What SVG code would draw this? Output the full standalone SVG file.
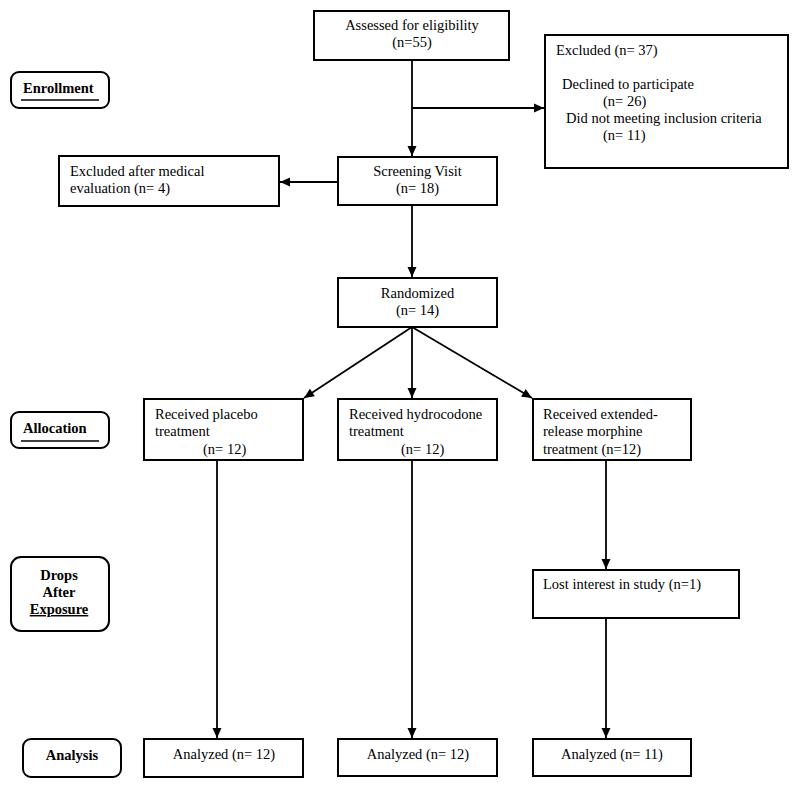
<svg xmlns="http://www.w3.org/2000/svg" width="800" height="785" viewBox="0 0 800 785">
<style>
  .box{fill:#fff;stroke:#000;stroke-width:2}
  .lab{fill:#fff;stroke:#000;stroke-width:2}
  .t{font-family:"Liberation Serif","Times New Roman",serif;font-size:14.5px;fill:#000}
  .b{font-family:"Liberation Serif","Times New Roman",serif;font-size:14.5px;font-weight:bold;fill:#000}
  .c{text-anchor:middle}
  .ul{stroke:#000;stroke-width:1.5}
  .ln{stroke:#000;stroke-width:1.8;fill:none;marker-end:url(#ah)}
</style>
<defs>
  <marker id="ah" markerUnits="userSpaceOnUse" markerWidth="12" markerHeight="12" viewBox="0 0 12 12" refX="11" refY="6" orient="auto">
    <path d="M1,1.5 L11,6 L1,10.5 Z" fill="#000"/>
  </marker>
</defs>
<rect width="800" height="785" fill="#fff"/>

<g id="label-enrollment">
  <rect class="lab" x="11" y="72" width="98" height="36" rx="8"/>
  <text class="b" x="23" y="93">Enrollment</text>
  <line class="ul" x1="21" y1="100" x2="99" y2="100"/>
</g>
<g id="label-allocation">
  <rect class="lab" x="11" y="412" width="98" height="36" rx="8"/>
  <text class="b" x="23" y="433">Allocation</text>
  <line class="ul" x1="21" y1="441" x2="99" y2="441"/>
</g>
<g id="label-drops">
  <rect class="lab" x="11" y="557" width="98" height="74" rx="10"/>
  <text class="b c" x="59" y="580">Drops</text>
  <text class="b c" x="59" y="597">After</text>
  <text class="b c" x="59" y="614" text-decoration="underline">Exposure</text>
</g>
<g id="label-analysis">
  <rect class="lab" x="23" y="739" width="98" height="38" rx="8"/>
  <text class="b c" x="72" y="760">Analysis</text>
</g>

<g id="assessed">
  <rect class="box" x="314" y="11" width="195" height="49"/>
  <text class="t c" x="412" y="30">Assessed for eligibility</text>
  <text class="t c" x="412" y="47">(n=55)</text>
</g>
<g id="excluded">
  <rect class="box" x="545" y="35" width="243" height="133"/>
  <text class="t" x="556" y="55">Excluded (n= 37)</text>
  <text class="t" x="562" y="89">Declined to participate</text>
  <text class="t" x="603" y="106">(n= 26)</text>
  <text class="t" x="566" y="123">Did not meeting inclusion criteria</text>
  <text class="t" x="603" y="140">(n= 11)</text>
</g>
<g id="excluded-medical">
  <rect class="box" x="59" y="156" width="220" height="50"/>
  <text class="t" x="70" y="176">Excluded after medical</text>
  <text class="t" x="70" y="193">evaluation (n= 4)</text>
</g>
<g id="screening">
  <rect class="box" x="338" y="157" width="159" height="48"/>
  <text class="t c" x="417.5" y="176">Screening Visit</text>
  <text class="t c" x="417.5" y="193">(n= 18)</text>
</g>
<g id="randomized">
  <rect class="box" x="338" y="278" width="159" height="49"/>
  <text class="t c" x="417.5" y="298">Randomized</text>
  <text class="t c" x="417.5" y="315">(n= 14)</text>
</g>
<g id="placebo">
  <rect class="box" x="144" y="399" width="159" height="61"/>
  <text class="t" x="155" y="419">Received placebo</text>
  <text class="t" x="155" y="436">treatment</text>
  <text class="t" x="203" y="454">(n= 12)</text>
</g>
<g id="hydrocodone">
  <rect class="box" x="338" y="399" width="159" height="61"/>
  <text class="t" x="349" y="419">Received hydrocodone</text>
  <text class="t" x="349" y="436">treatment</text>
  <text class="t" x="401" y="454">(n= 12)</text>
</g>
<g id="morphine">
  <rect class="box" x="533" y="399" width="158" height="61"/>
  <text class="t" x="543" y="419">Received extended-</text>
  <text class="t" x="543" y="436">release morphine</text>
  <text class="t" x="543" y="454">treatment (n=12)</text>
</g>
<g id="lost-interest">
  <rect class="box" x="533" y="570" width="206" height="48"/>
  <text class="t" x="543" y="589">Lost interest in study (n=1)</text>
</g>
<g id="analyzed-placebo">
  <rect class="box" x="144" y="739" width="159" height="38"/>
  <text class="t c" x="224" y="759">Analyzed (n= 12)</text>
</g>
<g id="analyzed-hydrocodone">
  <rect class="box" x="338" y="739" width="159" height="37"/>
  <text class="t c" x="418" y="759">Analyzed (n= 12)</text>
</g>
<g id="analyzed-morphine">
  <rect class="box" x="533" y="739" width="158" height="37"/>
  <text class="t c" x="612" y="759">Analyzed (n= 11)</text>
</g>

<g id="connectors">
  <line class="ln" x1="412" y1="60" x2="412" y2="156"/>
  <line class="ln" x1="412" y1="108" x2="544" y2="108"/>
  <line class="ln" x1="338" y1="182" x2="280" y2="182"/>
  <line class="ln" x1="412" y1="205" x2="412" y2="277"/>
  <line class="ln" x1="412" y1="327" x2="304" y2="398"/>
  <line class="ln" x1="412" y1="327" x2="412" y2="398"/>
  <line class="ln" x1="412" y1="327" x2="532" y2="398"/>
  <line class="ln" x1="217" y1="460" x2="217" y2="738"/>
  <line class="ln" x1="412" y1="460" x2="412" y2="738"/>
  <line class="ln" x1="606" y1="460" x2="606" y2="569"/>
  <line class="ln" x1="606" y1="618" x2="606" y2="738"/>
</g>
</svg>
